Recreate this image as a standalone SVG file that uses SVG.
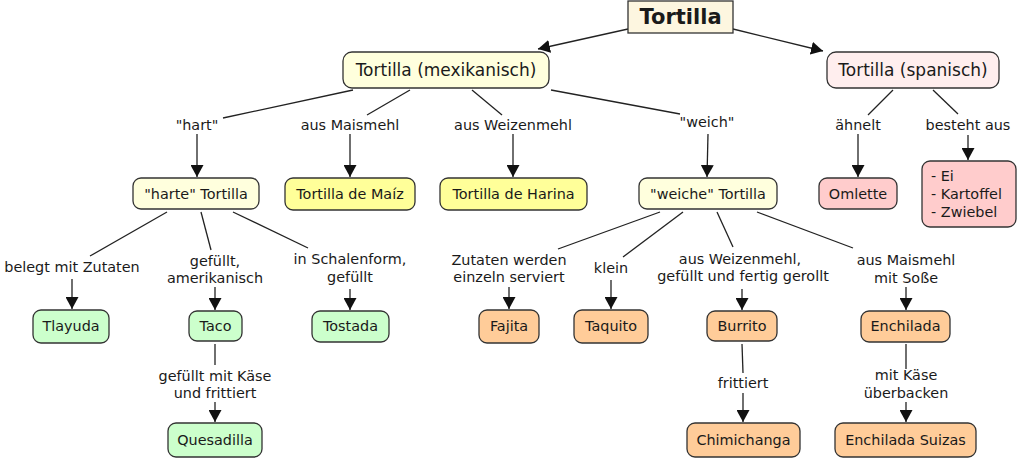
<svg xmlns="http://www.w3.org/2000/svg" width="1024" height="460" viewBox="0 0 1024 460">
<defs>
<marker id="arr" markerWidth="13" markerHeight="13" refX="12" refY="6.5" orient="auto" markerUnits="userSpaceOnUse">
<path d="M0,0 L12,6.5 L0,13 z" fill="#111"/>
</marker>
<style>
text{font-family:"DejaVu Sans","Verdana",sans-serif;fill:#1a1a1a;font-size:14.4px;text-anchor:middle;dominant-baseline:central}
.big{font-size:17px}
.root{font-size:21px;font-weight:bold}
.n{stroke:#333;stroke-width:1.3}
.ly{fill:#ffffdd}
.y{fill:#ffff99}
.pk{fill:#ffeeee}
.r{fill:#ffcccc}
.g{fill:#ccffcc}
.o{fill:#ffcc99}
#connectors line{stroke:#222;stroke-width:1.3;fill:none}
#connectors line.a{marker-end:url(#arr)}
.lst{text-anchor:start}
</style>
</defs>
<rect width="1024" height="460" fill="#fff"/>
<g id="connectors">
<line class="a" x1="628" y1="29" x2="538" y2="49"/>
<line class="a" x1="733" y1="29" x2="823" y2="51"/>
<line x1="353" y1="90" x2="223" y2="118"/>
<line class="a" x1="197" y1="134" x2="197" y2="177"/>
<line x1="410" y1="90" x2="367" y2="115"/>
<line class="a" x1="350" y1="134" x2="350" y2="177"/>
<line x1="472" y1="90" x2="502" y2="115"/>
<line class="a" x1="513" y1="134" x2="513" y2="177"/>
<line x1="551" y1="90" x2="680" y2="114"/>
<line class="a" x1="708" y1="134" x2="707" y2="177"/>
<line x1="893" y1="90" x2="868" y2="115"/>
<line class="a" x1="858" y1="134" x2="858" y2="177"/>
<line x1="933" y1="90" x2="958" y2="114"/>
<line class="a" x1="968" y1="135" x2="968" y2="160"/>
<line x1="167" y1="212" x2="90" y2="256"/>
<line class="a" x1="72" y1="279" x2="72" y2="309"/>
<line x1="201" y1="212" x2="211" y2="250"/>
<line class="a" x1="215" y1="287" x2="215" y2="310"/>
<line x1="233" y1="212" x2="308" y2="248"/>
<line class="a" x1="350" y1="289" x2="350" y2="310"/>
<line x1="215" y1="344" x2="215" y2="365"/>
<line class="a" x1="215" y1="402" x2="215" y2="422"/>
<line x1="660" y1="212" x2="558" y2="249"/>
<line class="a" x1="509" y1="287" x2="509" y2="309"/>
<line x1="683" y1="212" x2="623" y2="257"/>
<line class="a" x1="611" y1="280" x2="611" y2="309"/>
<line x1="717" y1="212" x2="733" y2="247"/>
<line class="a" x1="742" y1="289" x2="742" y2="310"/>
<line x1="757" y1="212" x2="853" y2="248"/>
<line class="a" x1="906" y1="287" x2="906" y2="310"/>
<line x1="742" y1="344" x2="743" y2="373"/>
<line class="a" x1="743" y1="393" x2="743" y2="422"/>
<line x1="906" y1="344" x2="906" y2="369"/>
<line class="a" x1="906" y1="402" x2="906" y2="422"/>
</g>
<g id="labels">
<text x="197" y="125">"hart"</text>
<text x="350" y="125">aus Maismehl</text>
<text x="513" y="125">aus Weizenmehl</text>
<text x="707" y="122">"weich"</text>
<text x="858" y="125">ähnelt</text>
<text x="968" y="125">besteht aus</text>
<text x="72" y="267">belegt mit Zutaten</text>
<text x="215" y="261">gefüllt,</text>
<text x="215" y="278">amerikanisch</text>
<text x="350" y="259">in Schalenform,</text>
<text x="350" y="277">gefüllt</text>
<text x="215" y="376">gefüllt mit Käse</text>
<text x="215" y="393">und frittiert</text>
<text x="509" y="260">Zutaten werden</text>
<text x="509" y="277">einzeln serviert</text>
<text x="611" y="268">klein</text>
<text x="740" y="259">aus Weizenmehl,</text>
<text x="743" y="276">gefüllt und fertig gerollt</text>
<text x="906" y="260">aus Maismehl</text>
<text x="906" y="278">mit Soße</text>
<text x="743" y="383">frittiert</text>
<text x="906" y="375">mit Käse</text>
<text x="906" y="393">überbacken</text>
</g>
<g id="n-root"><rect class="n" x="628" y="1" width="105" height="32" fill="#fdf6e0" stroke-width="1.6"/><text class="root" x="680.5" y="17">Tortilla</text></g>
<g id="n-mex"><rect class="n ly" x="343" y="52" width="206" height="36" rx="9"/><text class="big" x="446" y="70">Tortilla (mexikanisch)</text></g>
<g id="n-spa"><rect class="n pk" x="827" y="52" width="172" height="36" rx="9"/><text class="big" x="913" y="70">Tortilla (spanisch)</text></g>
<g id="n-harte"><rect class="n ly" x="133" y="178" width="126" height="31" rx="8"/><text x="196" y="194">"harte" Tortilla</text></g>
<g id="n-maiz"><rect class="n y" x="285" y="178" width="130" height="32" rx="8"/><text x="350" y="194">Tortilla de Maíz</text></g>
<g id="n-harina"><rect class="n y" x="440" y="178" width="147" height="32" rx="8"/><text x="513.5" y="194">Tortilla de Harina</text></g>
<g id="n-weiche"><rect class="n ly" x="639" y="178" width="138" height="31" rx="8"/><text x="708" y="194">"weiche" Tortilla</text></g>
<g id="n-omlette"><rect class="n r" x="819" y="178" width="78" height="31" rx="8"/><text x="858" y="194">Omlette</text></g>
<g id="n-list"><rect class="n r" x="922" y="161" width="94" height="66" rx="8"/><text class="lst" x="931" y="176">- Ei</text><text class="lst" x="931" y="194">- Kartoffel</text><text class="lst" x="931" y="212">- Zwiebel</text></g>
<g id="n-tlayuda"><rect class="n g" x="33" y="310" width="76" height="33" rx="8"/><text x="71" y="326">Tlayuda</text></g>
<g id="n-taco"><rect class="n g" x="189" y="311" width="53" height="30" rx="8"/><text x="215.5" y="326">Taco</text></g>
<g id="n-tostada"><rect class="n g" x="312" y="311" width="77" height="31" rx="8"/><text x="350.5" y="326">Tostada</text></g>
<g id="n-quesadilla"><rect class="n g" x="168" y="423" width="94" height="34" rx="8"/><text x="215" y="440">Quesadilla</text></g>
<g id="n-fajita"><rect class="n o" x="479" y="310" width="60" height="33" rx="8"/><text x="509" y="326">Fajita</text></g>
<g id="n-taquito"><rect class="n o" x="574" y="310" width="74" height="33" rx="8"/><text x="611" y="326">Taquito</text></g>
<g id="n-burrito"><rect class="n o" x="707" y="311" width="70" height="30" rx="8"/><text x="742" y="326">Burrito</text></g>
<g id="n-enchilada"><rect class="n o" x="861" y="311" width="89" height="31" rx="8"/><text x="905.5" y="326">Enchilada</text></g>
<g id="n-chimichanga"><rect class="n o" x="687" y="423" width="113" height="34" rx="8"/><text x="743.5" y="440">Chimichanga</text></g>
<g id="n-suizas"><rect class="n o" x="835" y="423" width="141" height="34" rx="8"/><text x="905.5" y="440">Enchilada Suizas</text></g>
</svg>
